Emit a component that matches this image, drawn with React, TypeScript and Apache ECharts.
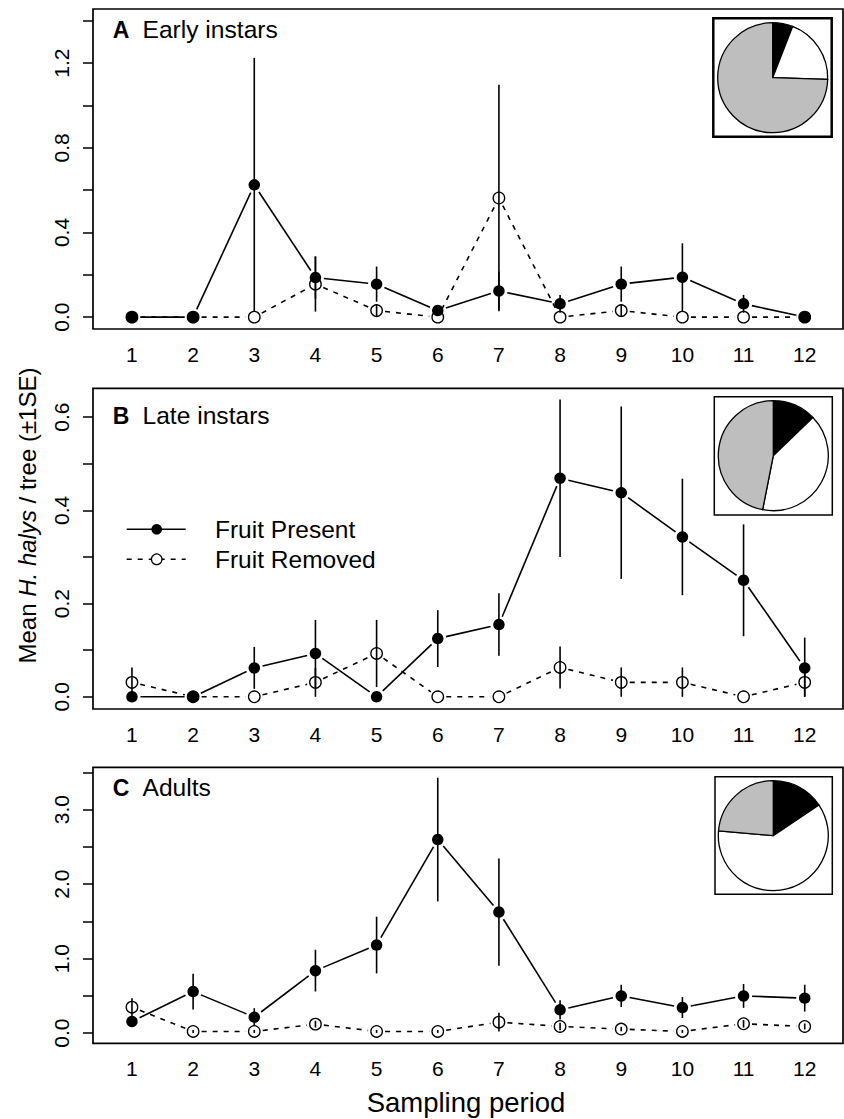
import React, { useEffect, useRef } from "react";
import * as echarts from "echarts";

// ---------------- data ----------------
const periods = [1, 2, 3, 4, 5, 6, 7, 8, 9, 10, 11, 12];

const earlyPresent = [0, 0, 0.625, 0.187, 0.156, 0.031, 0.124, 0.063, 0.156, 0.189, 0.063, 0];
const earlyPresentSE = [0, 0, 0.6, 0.1, 0.083, 0.02, 0.09, 0.042, 0.083, 0.16, 0.042, 0];
const earlyRemoved = [0, 0, 0, 0.156, 0.031, 0, 0.563, 0, 0.031, 0, 0, 0];
const earlyRemovedSE = [0, 0, 0, 0.13, 0.031, 0, 0.535, 0, 0.03, 0, 0, 0];

const latePresent = [0, 0, 0.062, 0.093, 0, 0.125, 0.155, 0.469, 0.438, 0.343, 0.25, 0.062];
const latePresentSE = [0, 0, 0.045, 0.072, 0, 0.061, 0.067, 0.169, 0.185, 0.125, 0.12, 0.065];
const lateRemoved = [0.031, 0, 0, 0.031, 0.093, 0, 0, 0.063, 0.031, 0.031, 0, 0.031];
const lateRemovedSE = [0.032, 0, 0, 0.031, 0.072, 0, 0, 0.045, 0.032, 0.032, 0, 0.031];

const adultPresent = [0.156, 0.557, 0.214, 0.838, 1.182, 2.597, 1.624, 0.312, 0.499, 0.343, 0.499, 0.469];
const adultPresentSE = [0.05, 0.24, 0.12, 0.28, 0.38, 0.83, 0.72, 0.13, 0.15, 0.14, 0.16, 0.18];
const adultRemoved = [0.348, 0.022, 0.022, 0.12, 0.022, 0.022, 0.147, 0.089, 0.054, 0.022, 0.125, 0.089];
const adultRemovedSE = [0.12, 0.02, 0.02, 0.045, 0.02, 0.02, 0.125, 0.05, 0.03, 0.02, 0.05, 0.04];

const pieNames = ["Part 1", "Part 2", "Part 3"];
const pieEarly = [5.9, 19.6, 74.5];
const pieLate = [12.8, 40.3, 46.9];
const pieAdult = [15.6, 60.8, 23.6];

const yTicksEarly = [0, 0.2, 0.4, 0.6, 0.8, 1.0, 1.2, 1.4];
const yLabelsEarly = [0, 0.4, 0.8, 1.2];
const yTicksLate = [0, 0.1, 0.2, 0.3, 0.4, 0.5, 0.6];
const yLabelsLate = [0, 0.2, 0.4, 0.6];
const yTicksAdult = [0, 0.5, 1.0, 1.5, 2.0, 2.5, 3.0, 3.5];
const yLabelsAdult = [0, 1, 2, 3];

const panelLetters = ["A", "B", "C"];
const panelTitles = ["Early instars", "Late instars", "Adults"];
const seriesNames = ["Fruit Present", "Fruit Removed"];
const xTitle = "Sampling period";

// ---------------- styling ----------------
const FONT = '"Liberation Sans", Arial, Helvetica, sans-serif';
const INK = "#000";
const GRAY = "#bebebe";
const pieColors = [INK, "#ffffff", GRAY];

const grids = [
  { left: 93, top: 9, width: 750, height: 320 },
  { left: 93, top: 388.3, width: 750, height: 320.7 },
  { left: 93, top: 767.3, width: 750, height: 276 },
];
const yRanges = [
  [-0.056, 1.456],
  [-0.0262, 0.662],
  [-0.137, 3.567],
];
const X_MIN = 0.363;
const X_MAX = 12.626;

const GAP = 8.5;
const LW = 1.6;

function segRenderer(dash: number[] | null) {
  return (params: any, api: any) => {
    const p1 = api.coord([api.value(0), api.value(1)]);
    const p2 = api.coord([api.value(2), api.value(3)]);
    const dx = p2[0] - p1[0];
    const dy = p2[1] - p1[1];
    const len = Math.hypot(dx, dy);
    if (len <= 2 * GAP) return null;
    const ux = dx / len;
    const uy = dy / len;
    return {
      type: "line",
      shape: {
        x1: p1[0] + ux * GAP,
        y1: p1[1] + uy * GAP,
        x2: p2[0] - ux * GAP,
        y2: p2[1] - uy * GAP,
      },
      style: { stroke: INK, lineWidth: LW, lineDash: dash || undefined },
    };
  };
}

function errRenderer(params: any, api: any) {
  const x = api.value(0);
  const p1 = api.coord([x, api.value(1)]);
  const p2 = api.coord([x, api.value(2)]);
  return {
    type: "line",
    shape: { x1: p1[0], y1: p1[1], x2: p2[0], y2: p2[1] },
    style: { stroke: INK, lineWidth: LW },
  };
}

function segData(vals: number[]) {
  const out: number[][] = [];
  for (let i = 0; i < vals.length - 1; i++) {
    out.push([periods[i], vals[i], periods[i + 1], vals[i + 1]]);
  }
  return out;
}

function errData(vals: number[], se: number[]) {
  const out: number[][] = [];
  vals.forEach((v, i) => {
    if (se[i] > 0) out.push([periods[i], Math.max(v - se[i], 0), v + se[i]]);
  });
  return out;
}

function panelSeries(idx: number, pres: number[], presSE: number[], rem: number[], remSE: number[]) {
  return [
    {
      name: seriesNames[1],
      type: "custom",
      xAxisIndex: idx,
      yAxisIndex: idx,
      renderItem: segRenderer([5, 6]),
      encode: { x: [0, 2], y: [1, 3] },
      data: segData(rem),
      z: 2,
      silent: true,
    },
    {
      name: seriesNames[0],
      type: "custom",
      xAxisIndex: idx,
      yAxisIndex: idx,
      renderItem: segRenderer(null),
      encode: { x: [0, 2], y: [1, 3] },
      data: segData(pres),
      z: 2,
      silent: true,
    },
    {
      name: seriesNames[1],
      type: "scatter",
      xAxisIndex: idx,
      yAxisIndex: idx,
      symbol: "circle",
      symbolSize: 11.5,
      itemStyle: { color: "#fff", borderColor: INK, borderWidth: 1.3, opacity: 1 },
      data: rem.map((v, i) => [periods[i], v]),
      z: 3,
      silent: true,
    },
    {
      name: seriesNames[0],
      type: "scatter",
      xAxisIndex: idx,
      yAxisIndex: idx,
      symbol: "circle",
      symbolSize: 11.5,
      itemStyle: { color: INK, opacity: 1 },
      data: pres.map((v, i) => [periods[i], v]),
      z: 4,
      silent: true,
    },
    {
      name: seriesNames[1],
      type: "custom",
      xAxisIndex: idx,
      yAxisIndex: idx,
      renderItem: errRenderer,
      encode: { x: 0, y: [1, 2] },
      data: errData(rem, remSE),
      z: 5,
      silent: true,
    },
    {
      name: seriesNames[0],
      type: "custom",
      xAxisIndex: idx,
      yAxisIndex: idx,
      renderItem: errRenderer,
      encode: { x: 0, y: [1, 2] },
      data: errData(pres, presSE),
      z: 5,
      silent: true,
    },
  ];
}

function pieSeries(center: number[], vals: number[]) {
  return {
    type: "pie",
    center,
    radius: 55,
    startAngle: 90,
    clockwise: true,
    silent: true,
    z: 3,
    label: { show: false },
    labelLine: { show: false },
    emphasis: { disabled: true },
    itemStyle: { borderColor: INK, borderWidth: 1.3 },
    data: vals.map((v, i) => ({ value: v, name: pieNames[i], itemStyle: { color: pieColors[i] } })),
  };
}

export default function App() {
  const ref = useRef<HTMLDivElement>(null);
  useEffect(() => {
    document.body.style.margin = "0";
    const chart = echarts.init(ref.current!, null, { renderer: "svg" });
    const yTicks = [yTicksEarly, yTicksLate, yTicksAdult];
    const yLabels = [yLabelsEarly, yLabelsLate, yLabelsAdult];
    const labelY = [29.7, 415.5, 787.8];

    const option: any = {
      animation: false,
      textStyle: { fontFamily: FONT, color: INK },
      grid: grids.map((g) => ({
        ...g,
        show: true,
        borderColor: INK,
        borderWidth: 1.7,
        backgroundColor: "transparent",
        containLabel: false,
        outerBoundsMode: "none",
      })),
      xAxis: grids.map((_, i) => ({
        type: "value",
        gridIndex: i,
        min: X_MIN,
        max: X_MAX,
        axisLine: { show: false },
        axisTick: { show: false },
        splitLine: { show: false },
        axisLabel: {
          customValues: periods,
          fontSize: 21,
          color: INK,
          fontFamily: FONT,
          margin: 15,
        },
      })),
      yAxis: grids.map((_, i) => ({
        type: "value",
        gridIndex: i,
        min: yRanges[i][0],
        max: yRanges[i][1],
        axisLine: { show: false },
        splitLine: { show: false },
        axisTick: {
          show: true,
          inside: false,
          length: 10,
          customValues: yTicks[i],
          lineStyle: { color: INK, width: 1.5 },
        },
        axisLabel: {
          customValues: yLabels[i],
          rotate: 90,
          fontSize: 21,
          color: INK,
          fontFamily: FONT,
          margin: 21,
          formatter: (v: number) => v.toFixed(1),
        },
      })),
      series: [
        ...panelSeries(0, earlyPresent, earlyPresentSE, earlyRemoved, earlyRemovedSE),
        ...panelSeries(1, latePresent, latePresentSE, lateRemoved, lateRemovedSE),
        ...panelSeries(2, adultPresent, adultPresentSE, adultRemoved, adultRemovedSE),
        pieSeries([772.7, 77.7], pieEarly),
        pieSeries([773.3, 455.7], pieLate),
        pieSeries([773.3, 835.7], pieAdult),
      ],
      graphic: [
        // inset boxes
        { type: "rect", z: 1, shape: { x: 713.3, y: 18.3, width: 118.4, height: 118.4 }, style: { fill: "#fff", stroke: INK, lineWidth: 2.5 } },
        { type: "rect", z: 1, shape: { x: 714.3, y: 396.7, width: 118, height: 118.3 }, style: { fill: "#fff", stroke: INK, lineWidth: 1.5 } },
        { type: "rect", z: 1, shape: { x: 715, y: 776.7, width: 117.3, height: 117.6 }, style: { fill: "#fff", stroke: INK, lineWidth: 1.5 } },
        // panel labels
        ...panelLetters.map((l, i) => ({
          type: "text",
          x: 112.7,
          y: labelY[i],
          z: 10,
          style: { text: l, font: `bold 23px ${FONT}`, fill: INK, textAlign: "left", textVerticalAlign: "middle", verticalAlign: "middle" },
        })),
        ...panelTitles.map((t, i) => ({
          type: "text",
          x: 142.5,
          y: labelY[i],
          z: 10,
          style: { text: t, font: `24.6px ${FONT}`, fill: INK, textAlign: "left", textVerticalAlign: "middle", verticalAlign: "middle" },
        })),
        // legend
        { type: "line", z: 10, shape: { x1: 126.7, y1: 529.3, x2: 185.7, y2: 529.3 }, style: { stroke: INK, lineWidth: LW } },
        { type: "circle", z: 11, shape: { cx: 156.7, cy: 529.3, r: 5.3 }, style: { fill: INK } },
        { type: "line", z: 10, shape: { x1: 126.7, y1: 559.3, x2: 185.7, y2: 559.3 }, style: { stroke: INK, lineWidth: LW, lineDash: [5, 6] } },
        { type: "circle", z: 11, shape: { cx: 156.7, cy: 559.3, r: 5.3 }, style: { fill: "#fff", stroke: INK, lineWidth: 1.3 } },
        {
          type: "text", x: 215, y: 529.3, z: 10,
          style: { text: seriesNames[0], font: `24.5px ${FONT}`, fill: INK, textAlign: "left", verticalAlign: "middle", textVerticalAlign: "middle" },
        },
        {
          type: "text", x: 215, y: 559.3, z: 10,
          style: { text: seriesNames[1], font: `24.5px ${FONT}`, fill: INK, textAlign: "left", verticalAlign: "middle", textVerticalAlign: "middle" },
        },
        // axis titles
        {
          type: "text", x: 466, y: 1102, z: 10,
          style: { text: xTitle, font: `27.5px ${FONT}`, fill: INK, textAlign: "center", verticalAlign: "middle", textVerticalAlign: "middle" },
        },
        {
          type: "text", x: 27, y: 515.5, z: 10, rotation: Math.PI / 2,
          style: {
            text: "{n|Mean }{i|H. halys}{n| / tree (±1SE)}",
            textAlign: "center",
            verticalAlign: "middle",
            textVerticalAlign: "middle",
            fill: INK,
            rich: {
              n: { fontSize: 24, fontFamily: FONT, fill: INK, color: INK },
              i: { fontSize: 24, fontFamily: FONT, fontStyle: "italic", fill: INK, color: INK },
            },
          },
        },
      ],
    };
    chart.setOption(option);
    return () => chart.dispose();
  }, []);
  return <div ref={ref} style={{ width: 844, height: 1119 }} />;
}
